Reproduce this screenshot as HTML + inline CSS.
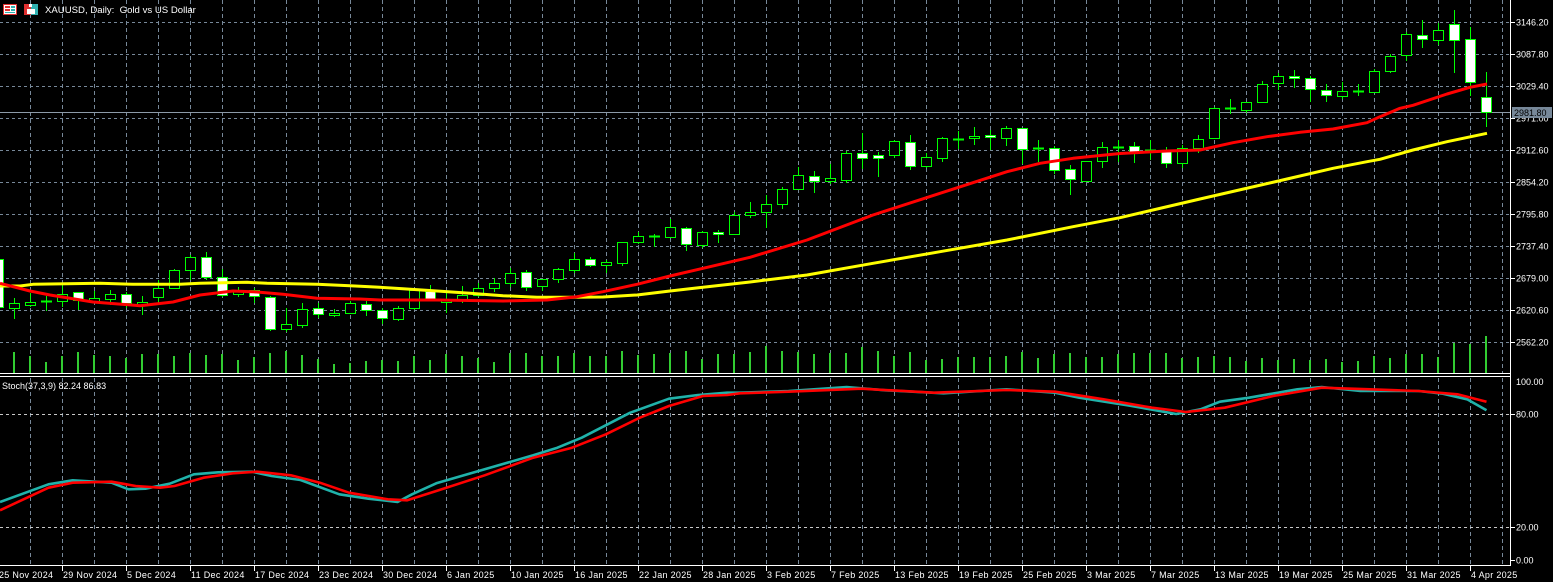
<!DOCTYPE html>
<html><head><meta charset="utf-8"><style>
html,body{margin:0;padding:0;background:#000;width:1553px;height:582px;overflow:hidden}
svg{display:block}
text{font-family:"Liberation Sans",sans-serif;fill:#fff}
</style></head><body>
<svg width="1553" height="582" viewBox="0 0 1553 582" xmlns="http://www.w3.org/2000/svg">
<rect width="1553" height="582" fill="#000"/>
<!-- grid main -->
<g stroke="#778899" stroke-width="1" fill="none" shape-rendering="crispEdges">
<path stroke-dasharray="3,3" d="M0 22.5H1510M0 54.5H1510M0 86.5H1510M0 118.5H1510M0 150.5H1510M0 182.5H1510M0 214.5H1510M0 246.5H1510M0 278.5H1510M0 310.5H1510M0 342.5H1510"/>
<path stroke-dasharray="4,3" d="M30.5 0V373M62.5 0V373M94.5 0V373M126.5 0V373M158.5 0V373M190.5 0V373M222.5 0V373M254.5 0V373M286.5 0V373M318.5 0V373M350.5 0V373M382.5 0V373M414.5 0V373M446.5 0V373M478.5 0V373M510.5 0V373M542.5 0V373M574.5 0V373M606.5 0V373M638.5 0V373M670.5 0V373M702.5 0V373M734.5 0V373M766.5 0V373M798.5 0V373M830.5 0V373M862.5 0V373M894.5 0V373M926.5 0V373M958.5 0V373M990.5 0V373M1022.5 0V373M1054.5 0V373M1086.5 0V373M1118.5 0V373M1150.5 0V373M1182.5 0V373M1214.5 0V373M1246.5 0V373M1278.5 0V373M1310.5 0V373M1342.5 0V373M1374.5 0V373M1406.5 0V373M1438.5 0V373M1470.5 0V373M1502.5 0V373"/>
<path stroke-dasharray="4,3" d="M30.5 378V565M62.5 378V565M94.5 378V565M126.5 378V565M158.5 378V565M190.5 378V565M222.5 378V565M254.5 378V565M286.5 378V565M318.5 378V565M350.5 378V565M382.5 378V565M414.5 378V565M446.5 378V565M478.5 378V565M510.5 378V565M542.5 378V565M574.5 378V565M606.5 378V565M638.5 378V565M670.5 378V565M702.5 378V565M734.5 378V565M766.5 378V565M798.5 378V565M830.5 378V565M862.5 378V565M894.5 378V565M926.5 378V565M958.5 378V565M990.5 378V565M1022.5 378V565M1054.5 378V565M1086.5 378V565M1118.5 378V565M1150.5 378V565M1182.5 378V565M1214.5 378V565M1246.5 378V565M1278.5 378V565M1310.5 378V565M1342.5 378V565M1374.5 378V565M1406.5 378V565M1438.5 378V565M1470.5 378V565M1502.5 378V565"/>
</g>
<!-- stoch levels -->
<path d="M0 414.5H1510M0 527.5H1510" stroke="#c8c8c8" stroke-width="1" stroke-dasharray="3,3" fill="none" shape-rendering="crispEdges"/>
<!-- bid line -->
<path d="M0 112.5H1510" stroke="#8c9aa8" stroke-width="1" shape-rendering="crispEdges"/>
<!-- volumes -->
<path stroke="#32cd32" stroke-width="2" fill="none" shape-rendering="crispEdges" d="M14 373V352M30 373V356M46 373V362M62 373V356M78 373V352M94 373V355M110 373V356M126 373V358M142 373V354M158 373V354M174 373V356M190 373V353M206 373V355M222 373V354M238 373V360M254 373V357M270 373V353M286 373V351M302 373V355M318 373V359M334 373V364M350 373V363M366 373V361M382 373V360M398 373V361M414 373V356M430 373V360M446 373V354M462 373V356M478 373V358M494 373V362M510 373V353M526 373V353M542 373V356M558 373V356M574 373V353M590 373V356M606 373V356M622 373V351M638 373V355M654 373V354M670 373V353M686 373V351M702 373V359M718 373V354M734 373V354M750 373V352M766 373V346M782 373V351M798 373V352M814 373V354M830 373V353M846 373V353M862 373V347M878 373V351M894 373V356M910 373V352M926 373V360M942 373V359M958 373V357M974 373V357M990 373V357M1006 373V356M1022 373V352M1038 373V358M1054 373V354M1070 373V353M1086 373V357M1102 373V357M1118 373V354M1134 373V353M1150 373V353M1166 373V353M1182 373V358M1198 373V357M1214 373V356M1230 373V357M1246 373V361M1262 373V358M1278 373V360M1294 373V359M1310 373V360M1326 373V359M1342 373V362M1358 373V361M1374 373V356M1390 373V358M1406 373V354M1422 373V354M1438 373V357M1454 373V343M1470 373V344M1486 373V336"/>
<!-- wicks -->
<path stroke="#00ff00" stroke-width="1" fill="none" d="M-1.5 256V310M14.5 298V319M30.5 293V307M46.5 296V311M62.5 285V307M78.5 292V310M94.5 291V303M110.5 290V305M126.5 292V308M142.5 296V315M158.5 280V305M174.5 269V289M190.5 255V280M206.5 252V280M222.5 269V297M238.5 287V297M254.5 288V303M270.5 296V331M286.5 308V332M302.5 303V328M318.5 303V318M334.5 309V317M350.5 301V314M366.5 301V316M382.5 308V324M398.5 306V321M414.5 289V310M430.5 285V300M446.5 293V313M462.5 286V303M478.5 283V297M494.5 278V292M510.5 268V287M526.5 270V291M542.5 279V291M558.5 268V283M574.5 253V273M590.5 257V267M606.5 260V273M622.5 242V266M638.5 232V244M654.5 234V247M670.5 219V237M686.5 227V251M702.5 231V248M718.5 230V243M734.5 212V235M750.5 202V218M766.5 195V228M782.5 187V209M798.5 167V190M814.5 171V193M830.5 164V184M846.5 151V183M862.5 133V169M878.5 152V177M894.5 140V158M910.5 135V170M926.5 153V168M942.5 137V162M958.5 131V149M974.5 127V145M990.5 130V150M1006.5 126V146M1022.5 128V164M1038.5 140V162M1054.5 146V174M1070.5 165V195M1086.5 161V182M1102.5 142V168M1118.5 140V162M1134.5 142V163M1150.5 140V160M1166.5 147V168M1182.5 145V168M1198.5 135V153M1214.5 107V139M1230.5 99V114M1246.5 102V113M1262.5 81V102M1278.5 73V90M1294.5 70V88M1310.5 76V102M1326.5 84V102M1342.5 82V99M1358.5 84V96M1374.5 69V93M1390.5 54V73M1406.5 32V61M1422.5 20V48M1438.5 23V45M1454.5 10V73M1470.5 27V96M1486.5 72V127"/>
<!-- dojis -->
<path stroke="#00ff00" stroke-width="2" fill="none" d="M41 301.5h11M649 236.5h11M953 139.5h11M1033 148.5h11M1113 147.5h11M1145 150.5h11M1225 108.5h11M1353 91.5h11"/>
<!-- bear bodies (white) -->
<g fill="#fff" stroke="#00ff00" stroke-width="1">
<rect x="-6.5" y="259.5" width="10" height="48"/>
<rect x="73.5" y="292.5" width="10" height="8"/>
<rect x="121.5" y="294.5" width="10" height="9"/>
<rect x="201.5" y="257.5" width="10" height="20"/>
<rect x="217.5" y="277.5" width="10" height="18"/>
<rect x="249.5" y="290.5" width="10" height="6"/>
<rect x="265.5" y="297.5" width="10" height="32"/>
<rect x="313.5" y="308.5" width="10" height="6"/>
<rect x="361.5" y="304.5" width="10" height="6"/>
<rect x="377.5" y="310.5" width="10" height="8"/>
<rect x="425.5" y="291.5" width="10" height="8"/>
<rect x="521.5" y="272.5" width="10" height="15"/>
<rect x="585.5" y="259.5" width="10" height="6"/>
<rect x="681.5" y="228.5" width="10" height="16"/>
<rect x="713.5" y="232.5" width="10" height="2"/>
<rect x="809.5" y="176.5" width="10" height="5"/>
<rect x="857.5" y="153.5" width="10" height="5"/>
<rect x="873.5" y="155.5" width="10" height="3"/>
<rect x="905.5" y="142.5" width="10" height="24"/>
<rect x="985.5" y="135.5" width="10" height="2"/>
<rect x="1017.5" y="128.5" width="10" height="21"/>
<rect x="1049.5" y="148.5" width="10" height="22"/>
<rect x="1065.5" y="169.5" width="10" height="10"/>
<rect x="1129.5" y="146.5" width="10" height="7"/>
<rect x="1161.5" y="151.5" width="10" height="12"/>
<rect x="1289.5" y="76.5" width="10" height="2"/>
<rect x="1305.5" y="78.5" width="10" height="11"/>
<rect x="1321.5" y="90.5" width="10" height="5"/>
<rect x="1417.5" y="35.5" width="10" height="4"/>
<rect x="1449.5" y="24.5" width="10" height="16"/>
<rect x="1465.5" y="39.5" width="10" height="43"/>
<rect x="1481.5" y="97.5" width="10" height="15"/>
</g>
<!-- bull bodies (black) -->
<g fill="#000" stroke="#00ff00" stroke-width="1">
<rect x="9.5" y="303.5" width="10" height="5"/>
<rect x="25.5" y="302.5" width="10" height="3"/>
<rect x="57.5" y="294.5" width="10" height="7"/>
<rect x="89.5" y="298.5" width="10" height="3"/>
<rect x="105.5" y="294.5" width="10" height="5"/>
<rect x="137.5" y="302.5" width="10" height="3"/>
<rect x="153.5" y="288.5" width="10" height="9"/>
<rect x="169.5" y="270.5" width="10" height="18"/>
<rect x="185.5" y="257.5" width="10" height="13"/>
<rect x="233.5" y="290.5" width="10" height="4"/>
<rect x="281.5" y="324.5" width="10" height="5"/>
<rect x="297.5" y="309.5" width="10" height="16"/>
<rect x="329.5" y="313.5" width="10" height="2"/>
<rect x="345.5" y="303.5" width="10" height="10"/>
<rect x="393.5" y="308.5" width="10" height="11"/>
<rect x="409.5" y="290.5" width="10" height="18"/>
<rect x="441.5" y="300.5" width="10" height="2"/>
<rect x="457.5" y="295.5" width="10" height="5"/>
<rect x="473.5" y="288.5" width="10" height="7"/>
<rect x="489.5" y="283.5" width="10" height="5"/>
<rect x="505.5" y="273.5" width="10" height="10"/>
<rect x="537.5" y="279.5" width="10" height="7"/>
<rect x="553.5" y="269.5" width="10" height="10"/>
<rect x="569.5" y="259.5" width="10" height="11"/>
<rect x="601.5" y="262.5" width="10" height="3"/>
<rect x="617.5" y="242.5" width="10" height="21"/>
<rect x="633.5" y="236.5" width="10" height="6"/>
<rect x="665.5" y="227.5" width="10" height="10"/>
<rect x="697.5" y="232.5" width="10" height="13"/>
<rect x="729.5" y="215.5" width="10" height="19"/>
<rect x="745.5" y="212.5" width="10" height="3"/>
<rect x="761.5" y="204.5" width="10" height="8"/>
<rect x="777.5" y="189.5" width="10" height="15"/>
<rect x="793.5" y="175.5" width="10" height="14"/>
<rect x="825.5" y="178.5" width="10" height="3"/>
<rect x="841.5" y="153.5" width="10" height="27"/>
<rect x="889.5" y="141.5" width="10" height="14"/>
<rect x="921.5" y="157.5" width="10" height="9"/>
<rect x="937.5" y="138.5" width="10" height="20"/>
<rect x="969.5" y="136.5" width="10" height="2"/>
<rect x="1001.5" y="128.5" width="10" height="10"/>
<rect x="1081.5" y="161.5" width="10" height="20"/>
<rect x="1097.5" y="147.5" width="10" height="14"/>
<rect x="1177.5" y="148.5" width="10" height="15"/>
<rect x="1193.5" y="139.5" width="10" height="9"/>
<rect x="1209.5" y="108.5" width="10" height="30"/>
<rect x="1241.5" y="102.5" width="10" height="8"/>
<rect x="1257.5" y="84.5" width="10" height="18"/>
<rect x="1273.5" y="76.5" width="10" height="7"/>
<rect x="1337.5" y="91.5" width="10" height="5"/>
<rect x="1369.5" y="71.5" width="10" height="21"/>
<rect x="1385.5" y="56.5" width="10" height="15"/>
<rect x="1401.5" y="34.5" width="10" height="21"/>
<rect x="1433.5" y="30.5" width="10" height="10"/>
</g>
<!-- MAs -->
<polyline fill="none" stroke="#ffff00" stroke-width="3" stroke-linejoin="round" points="0,286 20,286 33,284.3 100,283.3 133,284.3 180,284.3 200,283.3 247,282.3 267,283.3 317,284.3 350,285.7 370,286.7 403,288.7 437,291 470,293.3 503,295.7 537,297.3 570,297.3 603,297 637,295 670,291 703,287.3 750,282 807,275 873,263.3 940,251.7 1007,240 1073,226.7 1120,217.7 1200,199 1287,179 1333,168.3 1367,161.7 1380,159.3 1413,150 1447,141.7 1487,133.3"/>
<polyline fill="none" stroke="#ff0000" stroke-width="3" stroke-linejoin="round" points="0,283.3 30,291 50,295 93,302 140,305.7 173,302 200,295 233,291 257,292 283,294.3 317,298.3 360,299 380,300 437,300 503,301 547,300 577,296.7 603,291.7 637,284.3 670,276 703,268.3 750,257.3 807,240 873,215 940,193.3 1007,171.7 1040,163.3 1073,158.3 1120,153.5 1167,151 1200,150 1233,142.7 1267,136.7 1300,132.3 1333,129 1367,122.7 1380,116.7 1400,108.3 1413,105.3 1447,94 1470,87.3 1487,84"/>
<!-- Stochastic -->
<polyline fill="none" stroke="#20b2aa" stroke-width="2.6" stroke-linejoin="round" points="0,502 48.5,484.3 72.7,480.3 111.5,482.7 128.5,489.3 145.4,488.7 169.7,483.7 193.9,474.3 218.1,472.3 252.1,471.7 271.5,476 300.5,480 339.3,494.3 368.4,498.7 397.5,502 412,494.3 436.3,483.3 484.7,469.3 533.2,455.3 557.4,447.7 581.7,437.7 630.2,412.7 669,398.7 698,395 727.1,392.7 740,392.7 788.5,391 846.6,387 885.4,390.3 943.6,393.3 1006.6,389.3 1055.1,392.7 1079.3,397.7 1127.8,405.3 1176.3,414 1200.5,409.3 1219.9,401.7 1249,397.7 1297.4,389.3 1321.7,387 1360.4,391 1418.6,391 1442.9,393.7 1467.1,399.3 1486.5,410.3"/>
<polyline fill="none" stroke="#ff0000" stroke-width="2.6" stroke-linejoin="round" points="0,510.3 48.5,487.7 72.7,482.7 111.5,481.7 135.7,486 160,487.7 174.5,486 203.6,477.7 232.7,473.3 256.9,471.7 290.8,475.3 319.9,482.7 349,492.7 387.8,499.3 407.2,500.3 436.3,491 484.7,475.3 533.2,457.7 572,447.7 605.9,434.3 639.8,417.7 669,406 702.9,396 727.1,395 740,393.3 788.5,391.7 861.2,388.7 933.9,392.7 1006.6,390 1055.1,391.7 1103.6,399.3 1152,407.7 1186,412 1224.7,407.7 1273.2,396 1321.7,387.7 1370.2,389.3 1418.6,391 1457.4,394.3 1486.5,401.7"/>
<!-- frame lines -->
<g fill="#fff" shape-rendering="crispEdges">
<rect x="0" y="373" width="1511" height="1"/>
<rect x="0" y="376" width="1511" height="1"/>
<rect x="0" y="565" width="1511" height="1"/>
<rect x="1510" y="0" width="1" height="566"/>
</g>
<path stroke="#fff" stroke-width="1" fill="none" shape-rendering="crispEdges" d="M1511 22.5h4M1511 54.5h4M1511 86.5h4M1511 118.5h4M1511 150.5h4M1511 182.5h4M1511 214.5h4M1511 246.5h4M1511 278.5h4M1511 310.5h4M1511 342.5h4M1511 414.5h4M1511 527.5h4M1511 560.5h4M62.5 566V571M126.5 566V571M190.5 566V571M254.5 566V571M318.5 566V571M382.5 566V571M446.5 566V571M510.5 566V571M574.5 566V571M638.5 566V571M702.5 566V571M766.5 566V571M830.5 566V571M894.5 566V571M958.5 566V571M1022.5 566V571M1086.5 566V571M1150.5 566V571M1214.5 566V571M1278.5 566V571M1342.5 566V571M1406.5 566V571M1470.5 566V571"/>
<!-- price labels -->
<g font-size="9">
<text x="1516" y="25.5">3146.20</text>
<text x="1516" y="57.5">3087.80</text>
<text x="1516" y="89.5">3029.40</text>
<text x="1516" y="121.5">2971.00</text>
<text x="1516" y="153.5">2912.60</text>
<text x="1516" y="185.5">2854.20</text>
<text x="1516" y="217.5">2795.80</text>
<text x="1516" y="249.5">2737.40</text>
<text x="1516" y="281.5">2679.00</text>
<text x="1516" y="313.5">2620.60</text>
<text x="1516" y="345.5">2562.20</text>
<text x="1516" y="385">100.00</text>
<text x="1516" y="417.5">80.00</text>
<text x="1516" y="530.5">20.00</text>
<text x="1516" y="563.5">0.00</text>
</g>
<rect x="1512" y="107" width="40" height="11" fill="#778899"/>
<text x="1514" y="115.8" font-size="9" style="fill:#000">2981.80</text>
<!-- date labels -->
<g font-size="9" letter-spacing="0.3">
<text x="-1" y="578">25 Nov 2024</text>
<text x="63" y="578">29 Nov 2024</text>
<text x="127" y="578">5 Dec 2024</text>
<text x="191" y="578">11 Dec 2024</text>
<text x="255" y="578">17 Dec 2024</text>
<text x="319" y="578">23 Dec 2024</text>
<text x="383" y="578">30 Dec 2024</text>
<text x="447" y="578">6 Jan 2025</text>
<text x="511" y="578">10 Jan 2025</text>
<text x="575" y="578">16 Jan 2025</text>
<text x="639" y="578">22 Jan 2025</text>
<text x="703" y="578">28 Jan 2025</text>
<text x="767" y="578">3 Feb 2025</text>
<text x="831" y="578">7 Feb 2025</text>
<text x="895" y="578">13 Feb 2025</text>
<text x="959" y="578">19 Feb 2025</text>
<text x="1023" y="578">25 Feb 2025</text>
<text x="1087" y="578">3 Mar 2025</text>
<text x="1151" y="578">7 Mar 2025</text>
<text x="1215" y="578">13 Mar 2025</text>
<text x="1279" y="578">19 Mar 2025</text>
<text x="1343" y="578">25 Mar 2025</text>
<text x="1407" y="578">31 Mar 2025</text>
<text x="1471" y="578">4 Apr 2025</text>
</g>
<!-- title + icons -->
<g shape-rendering="crispEdges">
<rect x="3.5" y="4.5" width="13" height="10" fill="#fff" stroke="#e03030"/>
<rect x="5" y="6" width="5" height="2" fill="#e03030"/>
<rect x="5" y="9" width="5" height="2" fill="#e03030"/>
<rect x="11" y="6" width="4" height="2" fill="#30b0b0"/>
<rect x="11" y="9" width="4" height="2" fill="#30b0b0"/>
<rect x="5" y="12" width="10" height="1" fill="#30b0b0"/>
<rect x="24" y="4" width="7" height="11" fill="#e03030"/>
<rect x="31" y="4" width="7" height="11" fill="#30b0b0"/>
<rect x="27" y="9" width="8" height="5" fill="#fff"/>
<rect x="29" y="4" width="3" height="3" fill="#fff"/>
</g>
<text x="45" y="13" font-size="9.6" style="white-space:pre" xml:space="preserve">XAUUSD, Daily:  Gold vs US Dollar</text>
<text x="2" y="389" font-size="9">Stoch(37,3,9) 82.24 86.83</text>
</svg>
</body></html>
